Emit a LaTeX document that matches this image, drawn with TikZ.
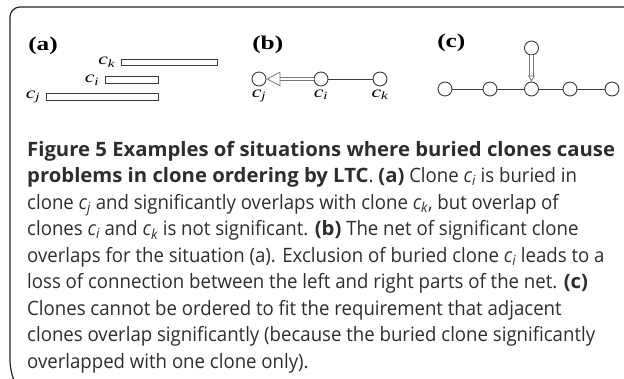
\documentclass[tikz,border=0pt]{standalone}
\usepackage{fontspec}
\setmainfont{Open Sans}[
  UprightFeatures={FakeStretch=0.94},
  ItalicFeatures={FakeStretch=0.94},
  BoldFeatures={FakeStretch=1.025}]
\newfontfamily\figfont{Liberation Serif}
\usetikzlibrary{arrows.meta,positioning}
\definecolor{framegray}{RGB}{35,35,35}
\definecolor{linegray}{RGB}{60,60,60}
\definecolor{arrowgray}{RGB}{120,120,120}
\definecolor{textgray}{RGB}{45,45,45}
\tikzset{
  clonebar/.style={draw=linegray, fill=white, line width=0.9pt, inner sep=0pt,
    minimum height=6.5pt},
  clonedot/.style={circle, draw=linegray, fill=white, line width=0.9pt,
    inner sep=0pt, minimum size=14pt},
  clonelabel/.style={font=\figfont\fontsize{16}{16}\selectfont\itshape, inner sep=0pt,
    xscale=1.35, transform shape},
  panel/.style={font=\figfont\fontsize{19.5}{19.5}\selectfont\bfseries, inner sep=0pt,
    anchor=west, xscale=1.3, transform shape},
  link/.style={draw=linegray, line width=0.9pt},
  buried/.style={draw=arrowgray, double=white, double distance=2.5pt, line width=0.8pt},
  caption/.style={align=left, inner sep=0pt, text=textgray,
    font=\fontsize{19.8}{26.5}\selectfont}
}

\begin{document}
\begin{tikzpicture}[x=1pt, y=-1pt]
  \useasboundingbox (0,0) rectangle (624,379);
  % frame
  \draw[framegray, line width=1.2pt, rounded corners=10pt]
    (13,378) -- (10,371) -- (10,7) -- (624,7);

  % (a) clones as bars
  \node[panel] (pa) at (28,46) {(a)};
  \node[clonebar, minimum width=96pt] (bark) at (169,62.5) {};
  \node[clonebar, minimum width=53pt] (bari) at (131.5,80) {};
  \node[clonebar, minimum width=112pt] (barj) at (102,97) {};
  \node[clonelabel, left=5pt of bark] (lak) {c\textsubscript{k}};
  \node[clonelabel, left=5pt of bari] (lai) {c\textsubscript{i}};
  \node[clonelabel, left=5pt of barj] (laj) {c\textsubscript{j}};

  % (b) net of overlaps
  \node[panel] (pb) at (252,45) {(b)};
  \node[clonedot] (bj) at (259,79) {};
  \node[clonedot] (bi) at (321,79) {};
  \node[clonedot] (bk) at (380,79) {};
  \node[clonelabel, below=3pt of bj] (lbj) {c\textsubscript{j}};
  \node[clonelabel, below=3pt of bi] (lbi) {c\textsubscript{i}};
  \node[clonelabel, below=3pt of bk] (lbk) {c\textsubscript{k}};
  \draw[link] (bi) -- (bk);
  \draw[buried, -{Triangle[open, length=14pt, width=15pt]}] (bi) -- (bj);

  % (c) chain with buried clone
  \node[panel] (pc) at (437,43) {(c)};
  \node[clonedot] (ctop) at (531.5,48) {};
  \foreach \n/\x in {1/445, 2/490, 3/531.5, 4/570, 5/612}
    \node[clonedot] (c\n) at (\x,89) {};
  \foreach \a/\b in {1/2, 2/3, 3/4, 4/5}
    \draw[link] (c\a) -- (c\b);
  \draw[buried, -{Triangle[open, length=6pt, width=7pt]}] (ctop) -- (c3);

  % caption
  \node[caption, anchor=north west] (cap) at (27,141) {%
    \textbf{Figure 5 Examples of situations where buried clones cause}\\
    \textbf{problems in clone ordering by LTC}. \textbf{(a)} Clone \textit{c\textsubscript{i}} is buried in\\
    clone \textit{c\textsubscript{j}} and significantly overlaps with clone \textit{c\textsubscript{k}}, but overlap of\\
    clones \textit{c\textsubscript{i}} and \textit{c\textsubscript{k}} is not significant. \textbf{(b)} The net of significant clone\\
    overlaps for the situation (a). Exclusion of buried clone \textit{c\textsubscript{i}} leads to a\\
    loss of connection between the left and right parts of the net. \textbf{(c)}\\
    Clones cannot be ordered to fit the requirement that adjacent\\
    clones overlap significantly (because the buried clone significantly\\
    overlapped with one clone only).};
\end{tikzpicture}
\end{document}
